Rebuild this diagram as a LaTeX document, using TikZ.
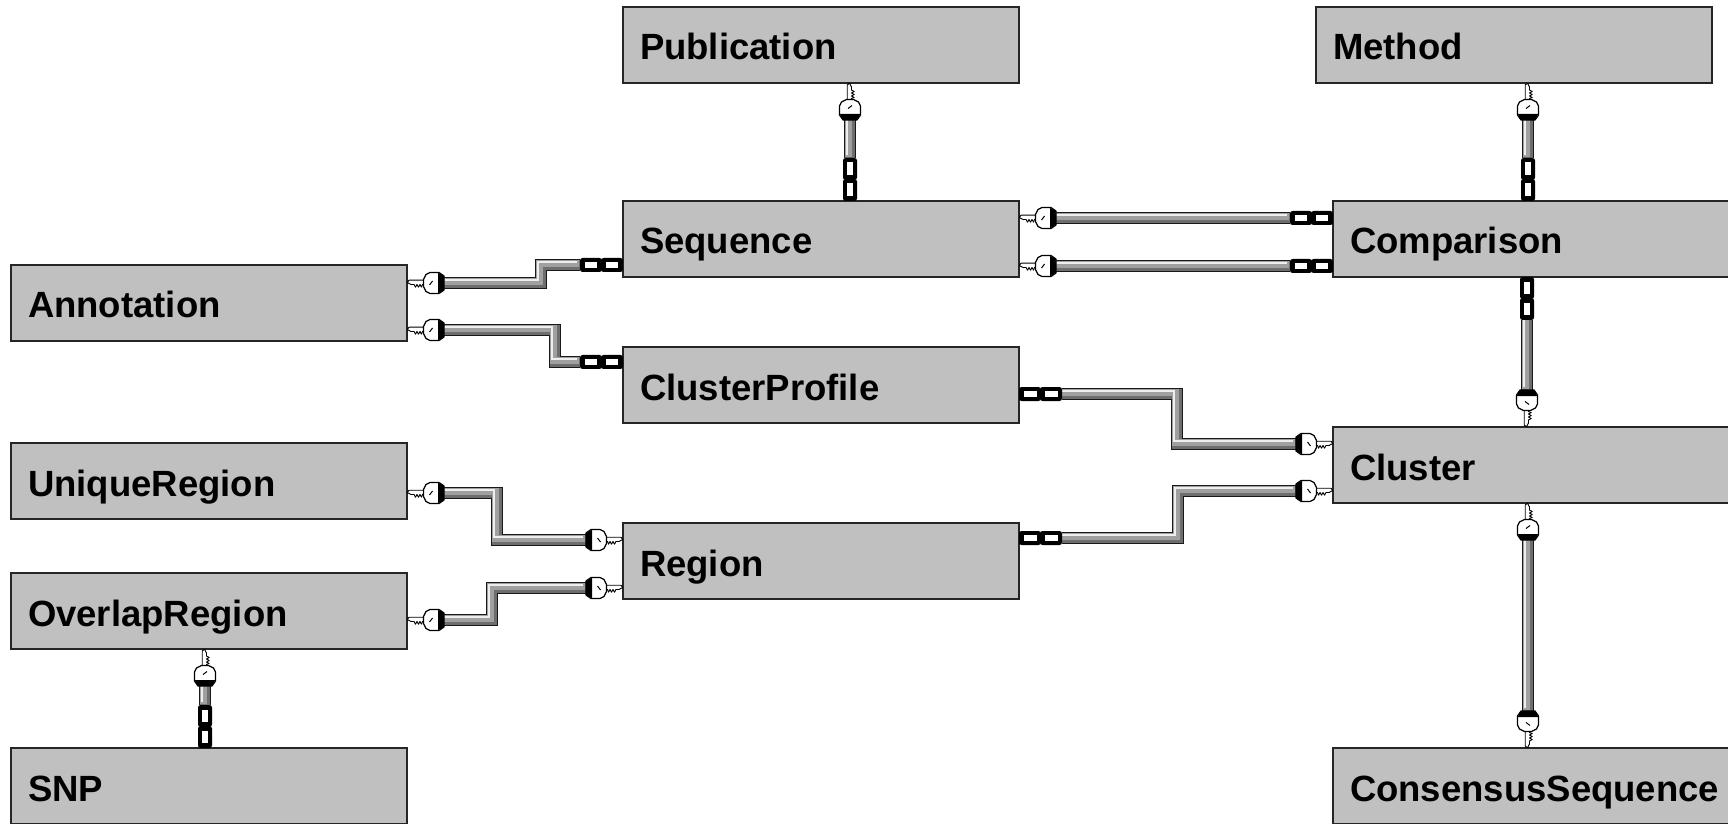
\documentclass[tikz,border=0pt]{standalone}
\usepackage{fontspec}
\setmainfont{Liberation Sans}
\usetikzlibrary{calc}

\definecolor{boxgray}{HTML}{C0C0C0}
\definecolor{pipedark}{HTML}{6E6E6E}
\definecolor{pipemid}{HTML}{A0A0A0}
\definecolor{pipelight}{HTML}{EEEEEE}

% three-dimensional relationship line, drawn in layers
\newcommand\relpipe[1]{%
  \draw[line width=12pt, black!90] #1;
  \draw[line width=10pt, pipedark] #1;
  \draw[line width=6.5pt, pipemid, transform canvas={shift={(-1.3pt,1.3pt)}}] #1;
  \draw[line width=2.2pt, pipelight, transform canvas={shift={(-3.2pt,3.2pt)}}] #1;
}

\tikzset{
  entity/.style={draw=black!85, line width=1.6pt, fill=boxgray, anchor=north west,
    minimum height=76pt, text width=362pt, inner xsep=17pt, inner ysep=0pt,
    outer sep=0pt, align=left, text height=36pt, text depth=6pt,
    font=\fontsize{36.5}{40}\selectfont\bfseries},
  % key end: tip on the table border, key runs along +x
  onekey/.pic={
    \filldraw[fill=white, draw=black, line width=0.9pt, line join=round]
      (0.3,0.5) -- (2,2.8) -- (18,2.8) -- (18,-1.5) -- (15.5,-1.5) -- (14.5,-4.2)
      -- (13,-1.5) -- (11.5,-4.2) -- (10,-1.5) -- (8.5,-4.2) -- (7,-1.5) -- (4,-1.5) -- cycle;
    \filldraw[fill=white, draw=black, line width=1.2pt, line join=round]
      (16.5,-3.5) -- (19,-8.5) -- (23,-10.5) -- (32,-10.5) -- (37,-7) -- (37,7)
      -- (32,10.5) -- (23,10.5) -- (19,8.5) -- (16.5,3.5) -- cycle;
    \fill[black] (31,-10.3) -- (37,-7) -- (37,7) -- (31,10.3) -- cycle;
    \draw[black, line width=1pt] (22.5,-2) -- (25.5,2);
  },
  % many end: two chain links, running along +x from the table border
  manylink/.pic={
    \fill[black, rounded corners=2.5pt] (0,-7) rectangle (22,7);
    \fill[black, rounded corners=2.5pt] (21,-7) rectangle (43,7);
    \fill[white] (5,-2.6) rectangle (17.5,2.6);
    \fill[white] (26,-2.6) rectangle (38.5,2.6);
  },
  keyright/.style={},
  keyleft/.style={xscale=-1},
  keydown/.style={rotate=-90, yscale=-1},
  keyup/.style={rotate=90},
  linkright/.style={},
  linkleft/.style={rotate=180},
  linkup/.style={rotate=90},
  linkdown/.style={rotate=-90},
}

\begin{document}
\begin{tikzpicture}[x=1pt, y=1pt]
\fill[white] (0,0) rectangle (1728,823);
\useasboundingbox (0,0) rectangle (1728,823);
\clip (0,0) rectangle (1728,823);

% tables
\node[entity] (pub)  at (623,816)  {Publication};
\node[entity] (meth) at (1316,816) {Method};
\node[entity] (seq)  at (623,622)  {Sequence};
\node[entity] (comp) at (1333,622) {Comparison};
\node[entity] (ann)  at (11,558)   {Annotation};
\node[entity] (cp)   at (623,476)  {ClusterProfile};
\node[entity] (ur)   at (11,380)   {UniqueRegion};
\node[entity] (clu)  at (1333,396) {Cluster};
\node[entity] (reg)  at (623,300)  {Region};
\node[entity] (ovl)  at (11,250)   {OverlapRegion};
\node[entity] (snp)  at (11,75)    {SNP};
\node[entity] (cons) at (1333,75)  {ConsensusSequence};

% relationship end points on the table borders
\coordinate (e1a)  at ([xshift=227pt]pub.south west);
\coordinate (e1b)  at ([xshift=227pt]seq.north west);
\coordinate (e2a)  at ([xshift=212pt]meth.south west);
\coordinate (e2b)  at ([xshift=195pt]comp.north west);
\coordinate (e3a)  at ([yshift=-17pt]seq.north east);
\coordinate (e3b)  at ([yshift=-17pt]comp.north west);
\coordinate (e4a)  at ([yshift=-65pt]seq.north east);
\coordinate (e4b)  at ([yshift=-65pt]comp.north west);
\coordinate (e5a)  at ([yshift=-18pt]ann.north east);
\coordinate (e5b)  at ([yshift=12pt]seq.south west);
\coordinate (e6a)  at ([yshift=-65pt]ann.north east);
\coordinate (e6b)  at ([yshift=-15pt]cp.north west);
\coordinate (e7a)  at ([yshift=-47pt]cp.north east);
\coordinate (e7b)  at ([yshift=-17pt]clu.north west);
\coordinate (e8a)  at ([yshift=-15pt]reg.north east);
\coordinate (e8b)  at ([yshift=-64pt]clu.north west);
\coordinate (e9a)  at ([yshift=-50pt]ur.north east);
\coordinate (e9b)  at ([yshift=-17pt]reg.north west);
\coordinate (e10a) at ([yshift=-47pt]ovl.north east);
\coordinate (e10b) at ([yshift=-65pt]reg.north west);
\coordinate (e11a) at ([xshift=194pt]ovl.south west);
\coordinate (e11b) at ([xshift=194pt]snp.north west);
\coordinate (e12a) at ([xshift=194pt]comp.south west);
\coordinate (e12b) at ([xshift=194pt]clu.north west);
\coordinate (e13a) at ([xshift=195pt]clu.south west);
\coordinate (e13b) at ([xshift=195pt]cons.north west);

% relationship lines
\relpipe{($(e1a)+(0,-37)$) -- ($(e1b)+(0,43)$)}
\relpipe{($(e2a)+(0,-37)$) -- ($(e2b)+(0,43)$)}
\relpipe{($(e3a)+(37,0)$) -- ($(e3b)+(-43,0)$)}
\relpipe{($(e4a)+(37,0)$) -- ($(e4b)+(-43,0)$)}
\relpipe{($(e5a)+(37,0)$) -- ++(97,0) |- ($(e5b)+(-43,0)$)}
\relpipe{($(e6a)+(37,0)$) -- ++(111,0) |- ($(e6b)+(-43,0)$)}
\relpipe{($(e7a)+(43,0)$) -- ++(115,0) |- ($(e7b)+(-37,0)$)}
\relpipe{($(e8a)+(43,0)$) -- ++(116,0) |- ($(e8b)+(-37,0)$)}
\relpipe{($(e9a)+(37,0)$) -- ++(53,0) |- ($(e9b)+(-37,0)$)}
\relpipe{($(e10a)+(37,0)$) -- ++(48,0) |- ($(e10b)+(-37,0)$)}
\relpipe{($(e11a)+(0,-37)$) -- ($(e11b)+(0,43)$)}
\relpipe{($(e12a)+(0,-43)$) -- ($(e12b)+(0,37)$)}
\relpipe{($(e13a)+(0,-37)$) -- ($(e13b)+(0,37)$)}

% line ends: keys on the primary key side, links on the foreign key side
\pic[keydown]  at (e1a)  {onekey};
\pic[linkup]   at (e1b)  {manylink};
\pic[keydown]  at (e2a)  {onekey};
\pic[linkup]   at (e2b)  {manylink};
\pic[keyright] at (e3a)  {onekey};
\pic[linkleft] at (e3b)  {manylink};
\pic[keyright] at (e4a)  {onekey};
\pic[linkleft] at (e4b)  {manylink};
\pic[keyright] at (e5a)  {onekey};
\pic[linkleft] at (e5b)  {manylink};
\pic[keyright] at (e6a)  {onekey};
\pic[linkleft] at (e6b)  {manylink};
\pic[linkright] at (e7a) {manylink};
\pic[keyleft]  at (e7b)  {onekey};
\pic[linkright] at (e8a) {manylink};
\pic[keyleft]  at (e8b)  {onekey};
\pic[keyright] at (e9a)  {onekey};
\pic[keyleft]  at (e9b)  {onekey};
\pic[keyright] at (e10a) {onekey};
\pic[keyleft]  at (e10b) {onekey};
\pic[keydown]  at (e11a) {onekey};
\pic[linkup]   at (e11b) {manylink};
\pic[linkdown] at (e12a) {manylink};
\pic[keyup]    at (e12b) {onekey};
\pic[keydown]  at (e13a) {onekey};
\pic[keyup]    at (e13b) {onekey};
\end{tikzpicture}
\end{document}
